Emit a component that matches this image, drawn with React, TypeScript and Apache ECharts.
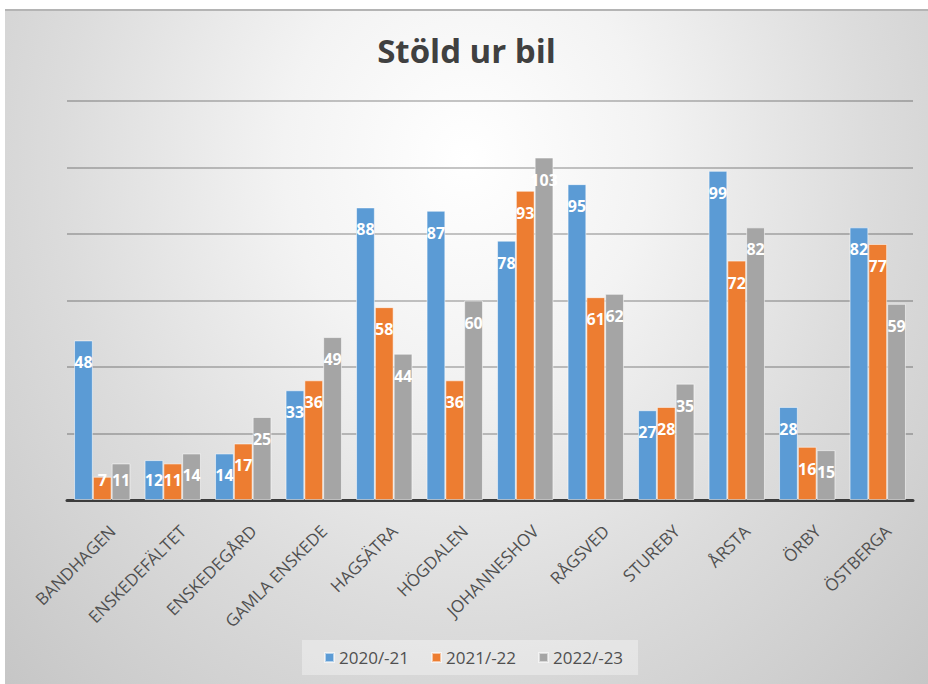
import React, { useEffect, useRef } from "react";
import * as echarts from "echarts";

const categories = [
  "BANDHAGEN",
  "ENSKEDEFÄLTET",
  "ENSKEDEGÅRD",
  "GAMLA ENSKEDE",
  "HAGSÄTRA",
  "HÖGDALEN",
  "JOHANNESHOV",
  "RÅGSVED",
  "STUREBY",
  "ÅRSTA",
  "ÖRBY",
  "ÖSTBERGA",
];
const seriesNames = ["2020/-21", "2021/-22", "2022/-23"];
const values2020 = [48, 12, 14, 33, 88, 87, 78, 95, 27, 99, 28, 82];
const values2021 = [7, 11, 17, 36, 58, 36, 93, 61, 28, 72, 16, 77];
const values2022 = [11, 14, 25, 49, 44, 60, 103, 62, 35, 82, 15, 59];
const colors = ["#5B9BD5", "#ED7D31", "#A5A5A5"];
const yMin = 0;
const yMax = 120;
const yInterval = 20;

const FONT = "'Open Sans', 'Noto Sans', sans-serif";

function buildData(vals: number[]) {
  return vals.map((v) =>
    v <= 12
      ? { value: v, label: { position: "insideBottom", distance: 12 } }
      : v
  );
}

export default function App() {
  const ref = useRef<HTMLDivElement>(null);
  useEffect(() => {
    if (!ref.current) return;
    const chart = echarts.init(ref.current, undefined, { renderer: "svg" });
    const allValues = [values2020, values2021, values2022];
    const gridMain = { left: 62, right: 15, top: 90, bottom: 184 };
    chart.setOption({
      animation: false,
      backgroundColor: "transparent",
      title: {
        text: "Stöld ur bil",
        left: "center",
        top: 18,
        textStyle: {
          fontFamily: FONT,
          fontSize: 33,
          fontWeight: "bold",
          color: "#404040",
        },
      },
      legend: {
        left: 297,
        top: 629,
        padding: [9, 15, 9, 22],
        itemWidth: 9,
        itemHeight: 9,
        itemGap: 22,
        backgroundColor: "rgba(255,255,255,0.35)",
        icon: "rect",
        textStyle: { fontFamily: FONT, fontSize: 17, color: "#505050" },
        data: seriesNames,
      },
      grid: [
        gridMain,
        { left: 66, right: 11, top: 90, bottom: 184 },
      ],
      xAxis: [
        {
          type: "category",
          gridIndex: 0,
          data: categories,
          axisLine: { show: true, lineStyle: { color: "#3c3c3c", width: 3 } },
          axisTick: { show: false },
          axisLabel: { show: false },
        },
        {
          type: "category",
          gridIndex: 1,
          data: categories,
          axisLine: { show: false },
          axisTick: { show: false },
          axisLabel: {
            interval: 0,
            rotate: 45,
            align: "right",
            verticalAlign: "top",
            margin: 22,
            fontFamily: FONT,
            fontSize: 17,
            color: "#505050",
          },
        },
      ],
      yAxis: [
        {
          type: "value",
          gridIndex: 0,
          min: yMin,
          max: yMax,
          interval: yInterval,
          axisLabel: { show: false },
          axisLine: { show: false },
          axisTick: { show: false },
          splitLine: {
            show: true,
            lineStyle: { color: "rgba(0,0,0,0.3)", width: 1.5 },
          },
        },
        {
          type: "value",
          gridIndex: 1,
          min: yMin,
          max: yMax,
          show: false,
          splitLine: { show: false },
        },
      ],
      series: seriesNames.map((name, i) => ({
        name,
        type: "bar",
        xAxisIndex: 0,
        yAxisIndex: 0,
        barGap: "0%",
        barCategoryGap: "20%",
        itemStyle: {
          color: colors[i],
          borderColor: "rgba(255,255,255,0.55)",
          borderWidth: 1,
        },
        label: {
          show: true,
          position: "insideTop",
          distance: 14,
          color: "#ffffff",
          fontFamily: FONT,
          fontWeight: "bold",
          fontSize: 16,
        },
        data: buildData(allValues[i]),
      })),
    });
    return () => chart.dispose();
  }, []);

  return (
    <div
      style={{
        position: "absolute",
        left: 5,
        top: 9,
        width: 923,
        height: 675,
        boxSizing: "border-box",
        borderTop: "2px solid #b4b4b4",
        background:
          "radial-gradient(ellipse at 50% 22%, #ffffff 0%, #f3f3f3 28%, #dcdcdc 62%, #c6c6c6 100%)",
      }}
    >
      <div ref={ref} style={{ width: 923, height: 673 }} />
    </div>
  );
}
